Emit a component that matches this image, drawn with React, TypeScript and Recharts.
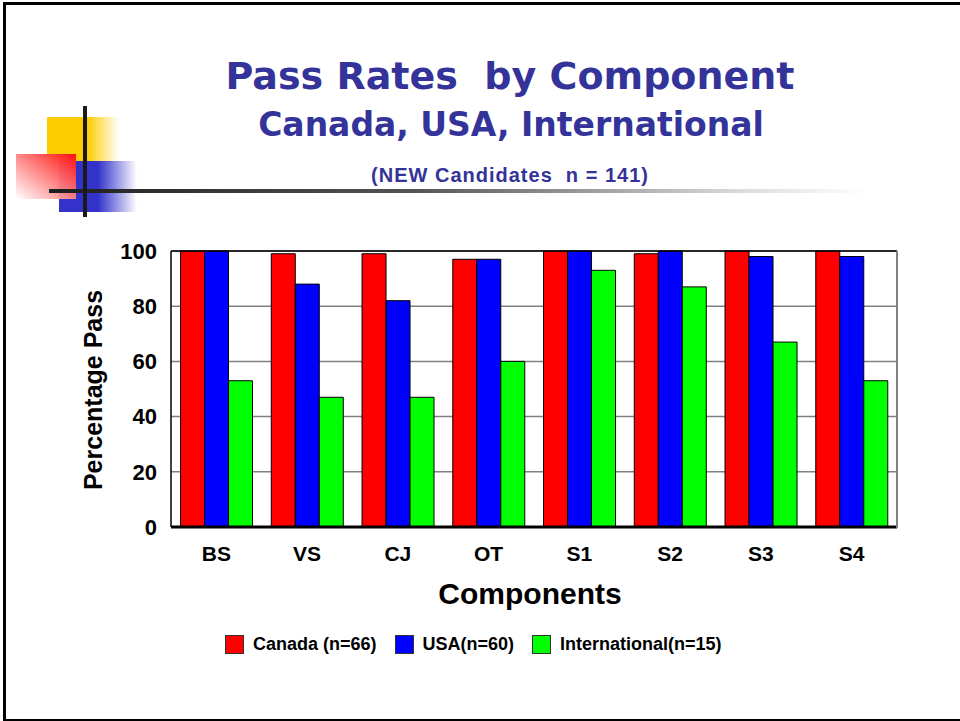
import { BarChart, Bar, XAxis, YAxis, CartesianGrid, ReferenceLine } from "recharts";

const components = ["BS", "VS", "CJ", "OT", "S1", "S2", "S3", "S4"];
const canada = [100, 99, 99, 97, 100, 99, 100, 100];
const usa = [100, 88, 82, 97, 100, 100, 98, 98];
const international = [53, 47, 47, 60, 93, 87, 67, 53];
const yTicks = [0, 20, 40, 60, 80, 100];

const series = [
  { key: "canada", name: "Canada (n=66)", color: "#FF0000" },
  { key: "usa", name: "USA(n=60)", color: "#0000FF" },
  { key: "international", name: "International(n=15)", color: "#00FF00" },
];

const data = components.map((name, i) => ({
  name,
  canada: canada[i],
  usa: usa[i],
  international: international[i],
}));

const BLUE = "#333399";
const ARIAL = "'Liberation Sans', Arial, sans-serif";
const VERDANA = "'DejaVu Sans', Verdana, sans-serif";

const Decoration = () => (
  <>
    <div style={{ position: "absolute", left: 47, top: 117, width: 72, height: 45, background: "linear-gradient(to right, #FFCC00 0px, #FFCC00 40px, rgba(255,204,0,0) 72px)" }} />
    <div style={{ position: "absolute", left: 59, top: 161, width: 78, height: 51, background: "linear-gradient(to right, #3333CC 0px, #3333CC 39px, rgba(51,51,204,0) 78px)" }} />
    <div style={{ position: "absolute", left: 16, top: 154, width: 60, height: 45, background: "linear-gradient(to bottom left, #FF1010 0%, rgba(255,255,255,0.9) 100%)" }} />
    <div style={{ position: "absolute", left: 49, top: 189, width: 820, height: 4, background: "linear-gradient(to right, #1e1e1e 0%, #555 45%, #ddd 85%, rgba(255,255,255,0) 100%)" }} />
    <div style={{ position: "absolute", left: 83, top: 106, width: 4, height: 111, background: "#1a1a1a" }} />
  </>
);

const App = () => {
  return (
    <div style={{ position: "absolute", left: 0, top: 0, width: 960, height: 721, overflow: "hidden", background: "#fff" }}>
      <style>{`body{margin:0;overflow:hidden}`}</style>
      <div style={{ position: "absolute", left: 3, top: 2, width: 970, height: 714, border: "3px solid #000", boxSizing: "content-box" }} />
      <Decoration />
      <div style={{ position: "absolute", left: 0, width: 1020, top: 51, textAlign: "center", color: BLUE, fontFamily: VERDANA, fontWeight: "bold", fontSize: 38, lineHeight: "50px", whiteSpace: "pre" }}>
        {"Pass Rates  by Component"}
      </div>
      <div style={{ position: "absolute", left: 0, width: 1022, top: 104, textAlign: "center", color: BLUE, fontFamily: VERDANA, fontWeight: "bold", fontSize: 33, lineHeight: "42px" }}>
        Canada, USA, International
      </div>
      <div style={{ position: "absolute", left: 0, width: 1020, top: 162, textAlign: "center", color: BLUE, fontFamily: ARIAL, fontWeight: "bold", fontSize: 20, letterSpacing: 1, lineHeight: "26px", whiteSpace: "pre" }}>
        {"(NEW Candidates  n = 141)"}
      </div>

      <div style={{ position: "absolute", left: 0, top: 0 }}>
        <BarChart
          width={960}
          height={721}
          data={data}
          margin={{ top: 251, right: 63, bottom: 164, left: 111 }}
          barCategoryGap="10.5%"
          barGap={0}
        >
          <CartesianGrid vertical={false} horizontal stroke="#808080" strokeWidth={1.5} />
          <XAxis
            dataKey="name"
            height={30}
            tickLine={false}
            axisLine={{ stroke: "#000", strokeWidth: 3 }}
            tick={{ fill: "#000", fontFamily: ARIAL, fontWeight: "bold", fontSize: 21 }}
            tickMargin={13}
          />
          <YAxis
            width={60}
            domain={[0, 100]}
            ticks={yTicks}
            tickLine={false}
            axisLine={{ stroke: "#000", strokeWidth: 1.5 }}
            tick={{ fill: "#000", fontFamily: ARIAL, fontWeight: "bold", fontSize: 22 }}
            tickMargin={8}
          />
          <ReferenceLine y={100} stroke="#000" strokeWidth={1.5} />
          {series.map((s) => (
            <Bar
              key={s.key}
              dataKey={s.key}
              name={s.name}
              fill={s.color}
              stroke="#000"
              strokeWidth={1}
              isAnimationActive={false}
            />
          ))}
        </BarChart>
      </div>
      <div style={{ position: "absolute", left: 896, top: 251, width: 1.5, height: 277, background: "#808080" }} />

      <div style={{ position: "absolute", left: 93, top: 390, width: 0, height: 0 }}>
        <div style={{ position: "absolute", left: 0, top: 0, transform: "translate(-50%, -50%) rotate(-90deg)", whiteSpace: "nowrap", fontFamily: ARIAL, fontWeight: "bold", fontSize: 25, lineHeight: "30px", color: "#000" }}>
          Percentage Pass
        </div>
      </div>
      <div style={{ position: "absolute", left: 330, width: 400, top: 576, textAlign: "center", fontFamily: ARIAL, fontWeight: "bold", fontSize: 30, lineHeight: "36px", color: "#000" }}>
        Components
      </div>

      <div style={{ position: "absolute", left: 225, top: 634, display: "flex", alignItems: "center", fontFamily: ARIAL, fontWeight: "bold", fontSize: 18, color: "#000" }}>
        {series.map((s) => (
          <div key={s.key} style={{ display: "flex", alignItems: "center", marginRight: 18 }}>
            <div style={{ width: 17, height: 17, background: s.color, border: "1px solid #333", marginRight: 9 }} />
            <span>{s.name}</span>
          </div>
        ))}
      </div>
    </div>
  );
};

export default App;
